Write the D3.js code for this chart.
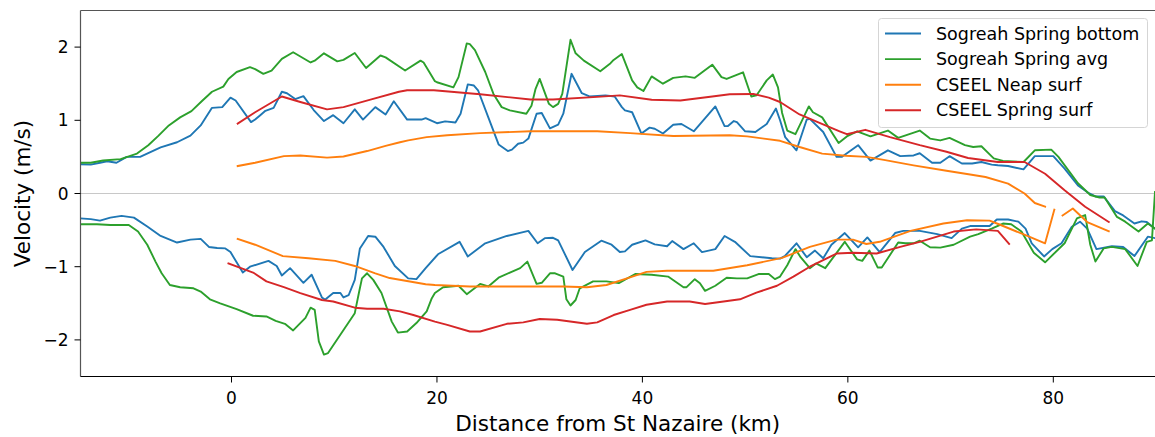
<!DOCTYPE html>
<html>
<head>
<meta charset="utf-8">
<script src="https://cdn.jsdelivr.net/npm/d3@7"></script>
<style>
	body { margin: 0; background: #fff; }
	svg { display: block; font-family: "DejaVu Sans", sans-serif; }
</style>
</head>
<body>
<div id="chart"></div>
<script>
// distance along estuary (km), velocity (m/s); flood (+) and ebb (-) branches
const sogreahBottomFlood = [[-14.7,0.40],[-13.7,0.395],[-12.8,0.42],[-12.1,0.44],[-11.2,0.42],[-10.2,0.50],[-8.9,0.50],[-6.9,0.63],[-5.3,0.70],[-4.0,0.79],[-3.0,0.93],[-1.9,1.17],[-0.9,1.18],[-0.1,1.31],[0.4,1.27],[1.9,0.975],[2.3,1.01],[2.8,1.07],[3.3,1.13],[4.1,1.17],[4.9,1.39],[5.4,1.37],[6.2,1.29],[7.0,1.33],[8.0,1.14],[9.0,0.99],[9.9,1.07],[10.9,0.96],[12.0,1.15],[12.8,1.01],[14.0,1.18],[15.0,1.08],[15.8,1.26],[17.1,1.01],[18.5,1.01],[18.9,1.03],[20.0,0.96],[20.8,0.985],[21.8,0.97],[22.3,1.09],[23.0,1.49],[23.6,1.475],[24.0,1.41],[25.0,1.04],[26.0,0.67],[26.9,0.58],[27.3,0.60],[27.9,0.68],[28.4,0.695],[28.9,0.75],[29.7,1.09],[30.2,1.10],[31.0,0.89],[31.8,0.94],[32.3,1.09],[33.1,1.635],[34.1,1.37],[34.9,1.325],[36.4,1.34],[37.3,1.325],[38.0,1.18],[38.3,1.135],[39.0,1.11],[39.9,0.82],[40.7,0.90],[41.2,0.885],[42.0,0.82],[43.0,0.94],[43.8,0.95],[45.0,0.85],[47.1,1.19],[48.0,0.92],[48.3,0.92],[48.9,0.99],[49.2,0.975],[50.0,0.85],[51.0,0.84],[52.1,0.95],[53.0,1.16],[53.4,1.0],[53.9,0.77],[55.0,0.59],[56.0,1.01],[56.3,1.02],[57.6,0.84],[58.9,0.50],[59.4,0.50],[61.0,0.66],[62.2,0.45],[63.9,0.59],[65.1,0.51],[66.4,0.52],[67.0,0.55],[68.2,0.42],[69.0,0.42],[69.9,0.51],[71.1,0.41],[72.1,0.41],[73.0,0.43],[74.0,0.395],[74.6,0.385],[75.6,0.375],[77.1,0.33],[78.2,0.51],[80.0,0.51],[81.1,0.34],[82.4,0.11],[83.4,0.01],[84.1,-0.04],[84.9,-0.04],[86.0,-0.24],[86.8,-0.30],[87.9,-0.41],[88.6,-0.38],[89.1,-0.39],[89.9,-0.48]];
const sogreahBottomEbb = [[-14.7,-0.34],[-13.7,-0.35],[-12.8,-0.37],[-11.8,-0.33],[-10.7,-0.305],[-9.5,-0.33],[-8.2,-0.45],[-6.9,-0.58],[-5.3,-0.67],[-4.0,-0.63],[-3.0,-0.62],[-2.2,-0.73],[-1.4,-0.745],[-0.6,-0.75],[-0.1,-0.80],[1.1,-1.08],[1.8,-1.0],[3.6,-0.92],[4.4,-0.99],[4.9,-1.12],[5.7,-1.02],[7.0,-1.22],[7.8,-1.11],[8.8,-1.42],[9.1,-1.45],[9.9,-1.36],[10.6,-1.36],[10.9,-1.42],[11.4,-1.39],[12.0,-1.18],[12.5,-0.75],[13.3,-0.58],[14.0,-0.59],[14.8,-0.73],[15.9,-0.99],[17.2,-1.16],[18.0,-1.17],[18.9,-1.02],[20.1,-0.83],[22.2,-0.66],[23.0,-0.86],[24.7,-0.68],[26.8,-0.58],[28.9,-0.51],[29.8,-0.68],[30.5,-0.61],[31.3,-0.605],[31.8,-0.64],[33.2,-1.045],[34.4,-0.80],[36.0,-0.645],[37.0,-0.70],[37.8,-0.80],[38.3,-0.79],[39.0,-0.70],[40.3,-0.64],[41.2,-0.695],[42.4,-0.72],[42.9,-0.65],[44.0,-0.76],[45.0,-0.68],[45.8,-0.80],[47.1,-0.76],[48.0,-0.58],[49.0,-0.66],[50.5,-0.855],[52.6,-0.885],[53.4,-0.89],[53.9,-0.85],[55.0,-0.68],[56.0,-0.87],[56.8,-0.78],[57.6,-0.885],[58.4,-0.70],[59.7,-0.54],[61.0,-0.735],[61.9,-0.60],[63.1,-0.80],[64.6,-0.54],[65.4,-0.51],[67.0,-0.51],[68.7,-0.555],[70.1,-0.61],[71.1,-0.48],[71.9,-0.445],[73.8,-0.445],[74.5,-0.355],[75.6,-0.355],[76.6,-0.385],[77.3,-0.48],[77.9,-0.68],[79.1,-0.86],[79.9,-0.76],[80.8,-0.68],[81.8,-0.455],[82.6,-0.385],[83.3,-0.48],[84.2,-0.76],[85.7,-0.72],[86.8,-0.73],[87.9,-0.855],[89.2,-0.59],[89.9,-0.61]];

const sogreahAvgFlood = [[-14.7,0.42],[-13.7,0.42],[-12.5,0.45],[-10.8,0.47],[-9.2,0.545],[-8.1,0.66],[-7.1,0.79],[-6.1,0.93],[-5.0,1.04],[-3.9,1.125],[-2.9,1.26],[-1.9,1.39],[-0.8,1.46],[-0.3,1.565],[0.5,1.66],[1.8,1.725],[2.3,1.70],[3.1,1.635],[3.9,1.68],[4.9,1.84],[6.0,1.93],[7.7,1.79],[8.1,1.815],[9.0,1.915],[10.3,1.805],[10.9,1.825],[12.0,1.92],[13.1,1.715],[14.5,1.885],[15.0,1.86],[16.9,1.68],[18.4,1.815],[18.7,1.79],[19.8,1.535],[20.0,1.52],[21.6,1.45],[22.1,1.59],[22.9,2.05],[23.2,2.04],[23.7,1.96],[24.7,1.66],[25.5,1.36],[26.3,1.18],[27.1,1.135],[28.7,1.09],[29.2,1.20],[29.6,1.43],[30.0,1.565],[30.9,1.225],[31.3,1.18],[31.8,1.225],[32.2,1.36],[33.0,2.10],[33.5,1.915],[34.3,1.815],[35.9,1.67],[36.9,1.78],[37.2,1.825],[38.0,1.905],[39.0,1.545],[39.5,1.45],[40.1,1.40],[40.9,1.60],[42.0,1.50],[43.0,1.58],[44.2,1.60],[45.1,1.58],[46.8,1.76],[47.7,1.59],[48.2,1.565],[49.8,1.655],[50.6,1.325],[51.1,1.34],[52.1,1.545],[52.7,1.625],[53.2,1.45],[53.6,1.1],[54.1,0.86],[54.9,0.81],[56.2,1.19],[56.6,1.11],[57.5,1.04],[59.1,0.69],[59.9,0.78],[60.9,0.85],[62.2,0.78],[63.9,0.86],[64.9,0.76],[67.0,0.86],[68.0,0.75],[69.0,0.725],[69.9,0.76],[71.4,0.66],[72.2,0.635],[73.0,0.645],[74.2,0.48],[75.1,0.445],[77.1,0.43],[78.2,0.59],[79.8,0.60],[80.5,0.50],[82.4,0.14],[83.6,-0.02],[84.5,-0.055],[85.0,-0.055],[86.2,-0.32],[87.0,-0.385],[88.3,-0.52],[89.2,-0.41],[89.9,-0.48]];
const sogreahAvgEbb = [[-14.7,-0.42],[-13.1,-0.42],[-11.8,-0.43],[-10.0,-0.43],[-9.1,-0.52],[-8.2,-0.70],[-7.4,-0.93],[-6.8,-1.09],[-6.0,-1.25],[-5.0,-1.28],[-3.7,-1.295],[-3.0,-1.34],[-2.1,-1.445],[-1.1,-1.50],[0.5,-1.58],[2.1,-1.67],[3.4,-1.68],[4.3,-1.74],[5.2,-1.78],[6.0,-1.87],[7.2,-1.70],[7.7,-1.56],[8.1,-1.59],[8.5,-2.02],[9.0,-2.20],[9.4,-2.18],[12.0,-1.635],[12.4,-1.36],[12.7,-1.16],[13.2,-1.09],[13.8,-1.18],[14.6,-1.36],[15.6,-1.75],[16.2,-1.90],[17.1,-1.885],[18.0,-1.77],[19.0,-1.61],[19.5,-1.43],[19.8,-1.36],[20.6,-1.28],[22.1,-1.26],[22.9,-1.375],[24.2,-1.235],[25.0,-1.27],[26.0,-1.15],[27.1,-1.08],[28.1,-1.02],[28.8,-0.93],[29.7,-1.235],[30.2,-1.22],[31.0,-1.09],[31.5,-1.09],[32.3,-1.135],[32.6,-1.445],[33.0,-1.53],[33.5,-1.455],[33.9,-1.295],[35.2,-1.20],[36.5,-1.20],[37.7,-1.225],[39.3,-1.10],[40.9,-1.11],[42.5,-1.135],[44.0,-1.28],[44.3,-1.28],[45.1,-1.17],[45.6,-1.225],[46.1,-1.33],[47.1,-1.26],[48.2,-1.15],[49.2,-1.16],[50.2,-1.16],[51.3,-1.10],[52.3,-1.10],[52.9,-1.17],[53.4,-1.135],[54.1,-0.98],[54.9,-0.76],[55.4,-0.87],[56.3,-1.02],[56.9,-0.955],[57.8,-1.02],[59.7,-0.66],[60.9,-0.90],[61.4,-0.92],[62.1,-0.78],[62.9,-1.01],[63.3,-1.01],[64.9,-0.67],[65.6,-0.68],[66.4,-0.68],[67.0,-0.645],[68.0,-0.735],[69.0,-0.74],[70.3,-0.70],[71.9,-0.59],[72.7,-0.555],[74.0,-0.48],[75.1,-0.41],[75.9,-0.42],[76.9,-0.52],[78.1,-0.81],[79.2,-0.94],[81.1,-0.68],[82.3,-0.34],[83.1,-0.295],[83.6,-0.70],[84.1,-0.93],[84.9,-0.75],[85.7,-0.73],[87.0,-0.76],[88.2,-0.99],[89.1,-0.66],[89.6,-0.64],[89.9,0.02]];

// null = gap in the record
const cseelNeapFlood = [[0.6,0.375],[2.3,0.42],[5.1,0.51],[6.7,0.52],[9.3,0.49],[10.9,0.505],[13.2,0.58],[15.0,0.65],[16.4,0.70],[17.2,0.725],[19.0,0.77],[21.0,0.795],[24.2,0.825],[29.1,0.85],[35.6,0.85],[38.8,0.825],[43.0,0.785],[48.5,0.795],[50.2,0.78],[53.4,0.72],[55.3,0.635],[57.5,0.545],[59.8,0.515],[61.8,0.50],[63.5,0.46],[66.4,0.385],[69.6,0.31],[71.9,0.26],[73.4,0.225],[75.6,0.135],[77.2,0.0],[78.2,-0.13],[79.2,-0.18],null,[80.9,-0.30],[81.9,-0.205],[83.3,-0.39],[85.4,-0.515]];
const cseelNeapEbb = [[0.6,-0.62],[2.3,-0.70],[5.0,-0.855],[7.5,-0.885],[10.1,-0.92],[12.0,-0.99],[14.0,-1.09],[15.4,-1.155],[18.9,-1.24],[19.8,-1.25],[23.2,-1.27],[32.3,-1.27],[34.6,-1.28],[36.5,-1.25],[38.8,-1.145],[40.4,-1.07],[42.4,-1.055],[46.9,-1.055],[50.2,-0.98],[53.6,-0.88],[56.3,-0.73],[58.9,-0.63],[60.5,-0.63],[61.8,-0.69],[63.1,-0.66],[66.1,-0.51],[69.3,-0.41],[71.6,-0.365],[73.8,-0.37],[74.7,-0.42],[77.3,-0.57],[79.2,-0.68],[80.1,-0.22]];

const cseelSpringFlood = [[0.6,0.955],[2.3,1.11],[4.9,1.325],[6.7,1.25],[9.3,1.15],[10.9,1.18],[13.7,1.29],[16.3,1.39],[17.1,1.41],[19.7,1.41],[24.2,1.355],[29.1,1.285],[31.3,1.285],[35.6,1.32],[37.8,1.34],[40.9,1.28],[43.7,1.27],[46.8,1.325],[48.5,1.355],[50.8,1.36],[52.3,1.31],[53.4,1.25],[55.3,1.08],[57.3,0.96],[59.2,0.85],[59.9,0.81],[61.7,0.87],[64.1,0.77],[67.0,0.66],[69.6,0.57],[71.7,0.485],[74.6,0.43],[77.2,0.43],[79.2,0.27],[81.1,0.045],[83.1,-0.18],[85.4,-0.39]];
const cseelSpringEbb = [[-0.3,-0.955],[2.1,-1.08],[3.4,-1.2],[5.1,-1.28],[6.7,-1.36],[8.8,-1.455],[9.9,-1.475],[12.0,-1.56],[13.2,-1.575],[14.8,-1.575],[16.4,-1.61],[17.7,-1.66],[19.8,-1.75],[21.0,-1.795],[23.2,-1.885],[24.2,-1.885],[26.8,-1.78],[28.4,-1.76],[30.0,-1.715],[31.7,-1.725],[34.6,-1.78],[35.6,-1.76],[37.2,-1.66],[38.8,-1.59],[40.4,-1.52],[42.4,-1.475],[44.6,-1.475],[46.1,-1.51],[47.9,-1.475],[49.5,-1.445],[51.1,-1.355],[53.1,-1.26],[54.7,-1.135],[56.3,-1.0],[58.9,-0.82],[60.5,-0.81],[62.8,-0.82],[65.1,-0.73],[67.0,-0.66],[70.3,-0.52],[72.5,-0.49],[74.6,-0.51],[75.7,-0.69]];

const seriesNames = ["Sogreah Spring bottom", "Sogreah Spring avg", "CSEEL Neap surf", "CSEEL Spring surf"];
const seriesColors = ["#1f77b4", "#2ca02c", "#ff7f0e", "#d62728"];
const seriesData = [
	[sogreahBottomFlood, sogreahBottomEbb],
	[sogreahAvgFlood, sogreahAvgEbb],
	[cseelNeapFlood, cseelNeapEbb],
	[cseelSpringFlood, cseelSpringEbb]
];
const xTicks = [0, 20, 40, 60, 80];
const yTicks = [-2, -1, 0, 1, 2];
const xDomain = [-14.7, 89.9];
const yDomain = [-2.5, 2.5];

const width = 1155, height = 437;
const plot = { left: 80.5, right: 1155, top: 10.5, bottom: 376.5 };

const svg = d3.select("#chart").append("svg")
	.attr("width", width)
	.attr("height", height);

const x = d3.scaleLinear().domain(xDomain).range([plot.left, plot.right]);
const y = d3.scaleLinear().domain(yDomain).range([plot.bottom, plot.top]);

svg.append("clipPath").attr("id", "clip")
	.append("rect")
	.attr("x", plot.left).attr("y", plot.top)
	.attr("width", plot.right - plot.left).attr("height", plot.bottom - plot.top);

// zero line
svg.append("line")
	.attr("x1", plot.left).attr("x2", plot.right)
	.attr("y1", y(0)).attr("y2", y(0))
	.attr("stroke", "#c8c8c8")
	.attr("stroke-width", 1);

const line = d3.line()
	.defined(d => d !== null)
	.x(d => x(d[0]))
	.y(d => y(d[1]));

const lines = svg.append("g").attr("clip-path", "url(#clip)");
seriesData.forEach((branches, i) => {
	branches.forEach(branch => {
		lines.append("path")
			.datum(branch)
			.attr("d", line)
			.attr("fill", "none")
			.attr("stroke", seriesColors[i])
			.attr("stroke-width", 1.9)
			.attr("stroke-linejoin", "round")
			.attr("stroke-linecap", "square");
	});
});

// spines
svg.append("line")
	.attr("x1", plot.left).attr("x2", plot.right)
	.attr("y1", plot.top).attr("y2", plot.top)
	.attr("stroke", "#555").attr("stroke-width", 1.2);
svg.append("line")
	.attr("x1", plot.left).attr("x2", plot.left)
	.attr("y1", plot.top).attr("y2", plot.bottom)
	.attr("stroke", "#555").attr("stroke-width", 1.2);
svg.append("line")
	.attr("x1", plot.left).attr("x2", plot.right)
	.attr("y1", plot.bottom).attr("y2", plot.bottom)
	.attr("stroke", "#000").attr("stroke-width", 1.2);

// x axis ticks
const xt = svg.append("g");
xt.selectAll("line")
	.data(xTicks)
	.enter()
	.append("line")
	.attr("x1", d => x(d)).attr("x2", d => x(d))
	.attr("y1", plot.bottom).attr("y2", plot.bottom + 6)
	.attr("stroke", "#000");
xt.selectAll("text")
	.data(xTicks)
	.enter()
	.append("text")
	.attr("x", d => x(d))
	.attr("y", plot.bottom + 27)
	.attr("text-anchor", "middle")
	.attr("font-size", "17px")
	.attr("fill", "#000")
	.text(d => d < 0 ? "\u2212" + Math.abs(d) : d);

// y axis ticks
const yt = svg.append("g");
yt.selectAll("line")
	.data(yTicks)
	.enter()
	.append("line")
	.attr("x1", plot.left - 6).attr("x2", plot.left)
	.attr("y1", d => y(d)).attr("y2", d => y(d))
	.attr("stroke", "#000");
yt.selectAll("text")
	.data(yTicks)
	.enter()
	.append("text")
	.attr("x", plot.left - 12)
	.attr("y", d => y(d) + 6)
	.attr("text-anchor", "end")
	.attr("font-size", "17px")
	.attr("fill", "#000")
	.text(d => d < 0 ? "\u2212" + Math.abs(d) : d);

// axis labels
svg.append("text")
	.attr("x", (plot.left + plot.right) / 2 + 0)
	.attr("y", 431)
	.attr("text-anchor", "middle")
	.attr("font-size", "21.5px")
	.attr("fill", "#000")
	.text("Distance from St Nazaire (km)");
svg.append("text")
	.attr("transform", `translate(30,${y(0)}) rotate(-90)`)
	.attr("text-anchor", "middle")
	.attr("font-size", "21.5px")
	.attr("fill", "#000")
	.text("Velocity (m/s)");

// legend
const legend = svg.append("g");
legend.append("rect")
	.attr("x", 878.5).attr("y", 18.5)
	.attr("width", 269).attr("height", 109)
	.attr("rx", 3)
	.attr("fill", "#fff").attr("fill-opacity", 0.8)
	.attr("stroke", "#d5d5d5");
seriesNames.forEach((name, i) => {
	const ly = 33.5 + i * 25.6;
	legend.append("line")
		.attr("x1", 885).attr("x2", 921)
		.attr("y1", ly).attr("y2", ly)
		.attr("stroke", seriesColors[i])
		.attr("stroke-width", 1.9);
	legend.append("text")
		.attr("x", 936)
		.attr("y", ly + 6)
		.attr("font-size", "17.5px")
		.attr("fill", "#000")
		.text(name);
});
</script>
</body>
</html>
